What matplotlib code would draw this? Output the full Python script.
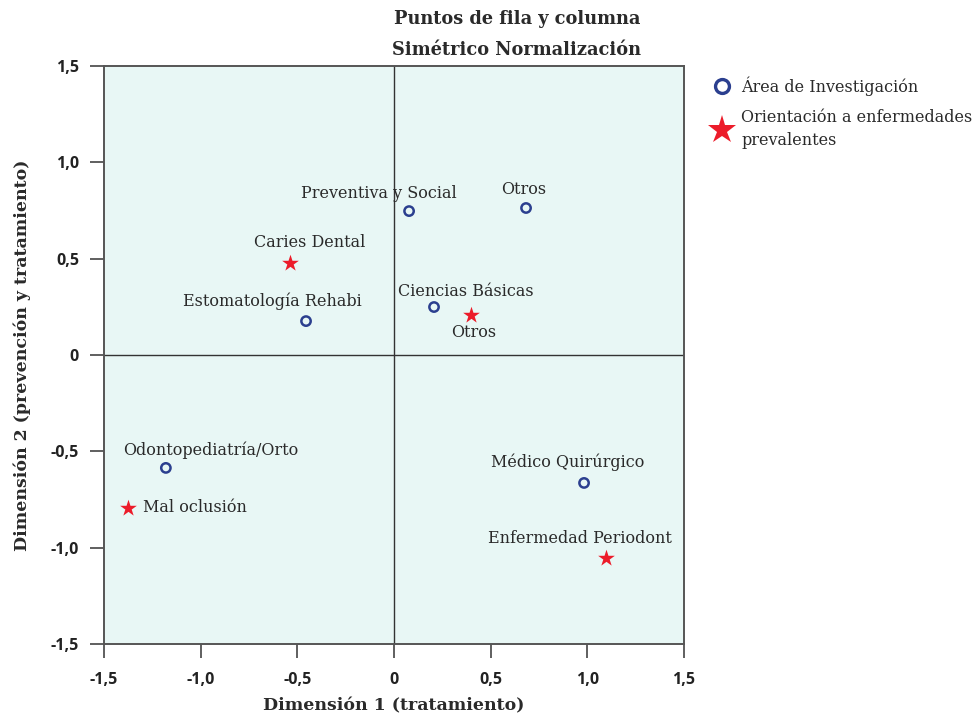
import numpy as np
import matplotlib.pyplot as plt
from matplotlib.lines import Line2D

# Data
area_labels = ['Preventiva y Social', 'Otros', 'Estomatología Rehabi', 'Ciencias Básicas',
               'Odontopediatría/Orto', 'Médico Quirúrgico']
area_x = [0.078, 0.683, -0.455, 0.207, -1.18, 0.983]
area_y = [0.747, 0.763, 0.176, 0.249, -0.586, -0.664]

orient_labels = ['Caries Dental', 'Otros', 'Mal oclusión', 'Enfermedad Periodont']
orient_x = [-0.538, 0.398, -1.376, 1.097]
orient_y = [0.477, 0.208, -0.794, -1.053]

ticks = [-1.5, -1.0, -0.5, 0, 0.5, 1.0, 1.5]
tick_labels = ['-1,5', '-1,0', '-0,5', '0', '0,5', '1,0', '1,5']

# label offsets (points) and alignment
area_offsets = [(-22, 13, 'center'), (-2, 13, 'center'), (-24, 14, 'center'),
                (23, 11, 'center'), (32, 13, 'center'), (-12, 15, 'center')]
orient_offsets = [(14, 15, 'center'), (2, -13, 'center'), (11, 0, 'left'),
                  (-19, 14, 'center')]

blue = '#2b3f8f'
red = '#ec1c2a'
serif = 'DejaVu Serif'
txt = '#2a2a2a'

fig = plt.figure(figsize=(9.8, 7.18), dpi=100)
ax = fig.add_axes([104 / 980, 1 - 644 / 718, 580 / 980, 578 / 718])
ax.set_facecolor('#e8f7f5')

ax.axhline(0, color='#333333', lw=1.0, zorder=1)
ax.axvline(0, color='#333333', lw=1.0, zorder=1)

ax.scatter(area_x, area_y, s=45, facecolors='none', edgecolors=blue, linewidths=1.8, zorder=3)
ax.scatter(orient_x, orient_y, s=160, marker='*', color=red, linewidths=0, zorder=3)

for lab, x, y, (dx, dy, ha) in zip(area_labels, area_x, area_y, area_offsets):
    ax.annotate(lab, (x, y), xytext=(dx, dy), textcoords='offset points',
                ha=ha, va='center', fontsize=11.5, family=serif, color=txt)
for lab, x, y, (dx, dy, ha) in zip(orient_labels, orient_x, orient_y, orient_offsets):
    ax.annotate(lab, (x, y), xytext=(dx, dy), textcoords='offset points',
                ha=ha, va='center', fontsize=11.5, family=serif, color=txt)

ax.set_xlim(-1.5, 1.5)
ax.set_ylim(-1.5, 1.5)
ax.set_xticks(ticks)
ax.set_xticklabels(tick_labels)
ax.set_yticks(ticks)
ax.set_yticklabels(tick_labels)
ax.tick_params(axis='both', length=10, width=1.2, color='#444444', labelsize=11.5)
ax.tick_params(axis='x', pad=10)
ax.tick_params(axis='y', pad=8)
for lab in ax.get_xticklabels() + ax.get_yticklabels():
    lab.set_fontweight('bold')
    lab.set_family('Open Sans')
    lab.set_color('#222222')
for sp in ax.spines.values():
    sp.set_color('#555555')
    sp.set_linewidth(1.4)

ax.set_xlabel('Dimensión 1 (tratamiento)', family=serif, fontweight='bold', fontsize=12.5,
              labelpad=7, color=txt)
ax.set_ylabel('Dimensión 2 (prevención y tratamiento)', family=serif, fontweight='bold',
              fontsize=12.5, labelpad=14, color=txt)
ax.set_title('Puntos de fila y columna\nSimétrico Normalización', family=serif, fontweight='bold',
             fontsize=12.8, linespacing=1.9, pad=8, x=(517 - 104) / 580, color=txt)

handles = [Line2D([], [], marker='o', ls='none', markerfacecolor='none', markeredgecolor=blue,
                  markeredgewidth=2.4, markersize=10),
           Line2D([], [], marker='*', ls='none', color=red, markersize=21, markeredgewidth=0)]
leg = fig.legend(handles, ['Área de Investigación', 'Orientación a enfermedades\nprevalentes'],
                 loc='upper left', bbox_to_anchor=(706 / 980, 1 - 70 / 718), frameon=False,
                 prop={'family': serif, 'size': 11.5}, handletextpad=0.6, labelspacing=0.85,
                 handlelength=1.2, borderaxespad=0)
for t in leg.get_texts():
    t.set_color(txt)
    t.set_linespacing(1.45)

fig.savefig('out.png', dpi=100)
